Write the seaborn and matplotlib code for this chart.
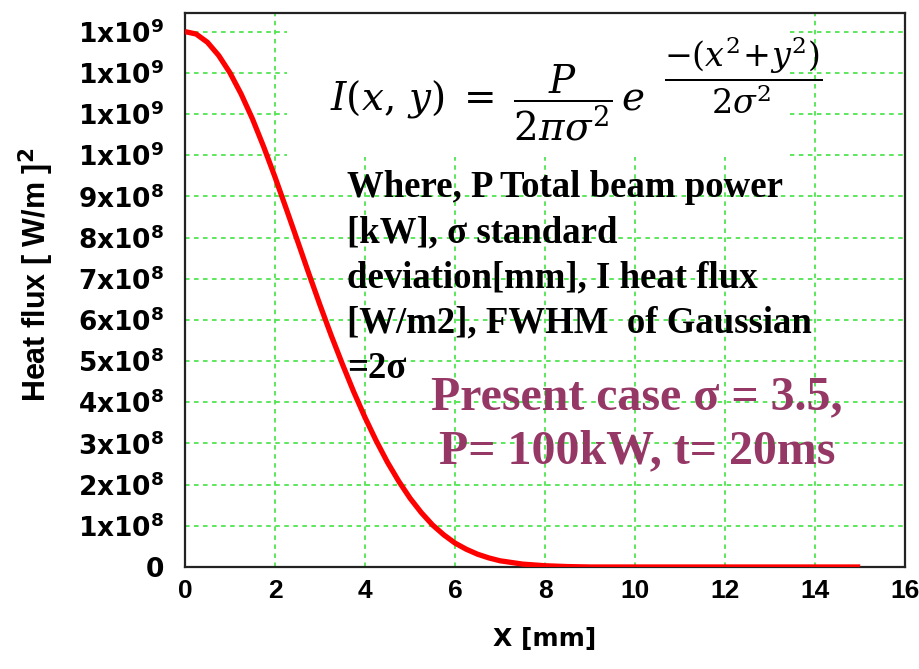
import numpy as np
import pandas as pd
import matplotlib
matplotlib.use('Agg')
import matplotlib.pyplot as plt
import seaborn as sns
from matplotlib.patches import Rectangle

# values (heat flux in units of 1e8 W/m2)
x_mm = [0.0, 0.25, 0.5, 0.75, 1.0, 1.25, 1.5, 1.75, 2.0, 2.25, 2.5, 2.75,
        3.0, 3.25, 3.5, 3.75, 4.0, 4.25, 4.5, 4.75, 5.0, 5.25, 5.5, 5.75,
        6.0, 6.25, 6.5, 6.75, 7.0, 7.5, 8.0, 8.5, 9.0, 15.0]
flux_1e8 = [13.0, 12.94, 12.74, 12.42, 12.0, 11.48, 10.88, 10.2, 9.47, 8.7, 7.92, 7.13,
            6.36, 5.62, 4.92, 4.25, 3.63, 3.06, 2.54, 2.08, 1.67, 1.32, 1.02, 0.78,
            0.58, 0.43, 0.31, 0.22, 0.15, 0.07, 0.03, 0.01, 0.0, 0.0]

x_ticks = [0, 2, 4, 6, 8, 10, 12, 14, 16]
y_ticks = [0, 1e8, 2e8, 3e8, 4e8, 5e8, 6e8, 7e8, 8e8, 9e8, 1.0e9, 1.1e9, 1.2e9, 1.3e9]
y_ticklabels = ['0'] + [f'{k}x10$^{{8}}$' for k in range(1, 10)] + ['1x10$^{9}$'] * 4

note_text = ('Where, P Total beam power\n[kW], \u03c3 standard\n'
             'deviation[mm], I heat flux\n[W/m2], FWHM  of Gaussian\n=2\u03c3')
case_text = 'Present case \u03c3 = 3.5,\nP= 100kW, t= 20ms'

df = pd.DataFrame({'x': x_mm, 'flux': np.array(flux_1e8) * 1e8})

sns.set_style('white')
plt.rcParams['font.family'] = ['DejaVu Sans']
plt.rcParams['text.color'] = 'black'
plt.rcParams['xtick.color'] = 'black'
plt.rcParams['ytick.color'] = 'black'
plt.rcParams['axes.labelcolor'] = 'black'
plt.rcParams['mathtext.fontset'] = 'custom'
plt.rcParams['mathtext.rm'] = 'DejaVu Sans:bold'
plt.rcParams['mathtext.it'] = 'DejaVu Sans:bold'
plt.rcParams['mathtext.bf'] = 'DejaVu Sans:bold'

fig = plt.figure(figsize=(9.2, 6.69), dpi=100)
ax = fig.add_axes([0.201, 0.1525, 0.783, 0.828])

ax.set_axisbelow(True)
ax.grid(True, color='#4ee64e', linestyle=(0, (2.5, 2.5)), linewidth=1.3)

# white panel behind the formula
ax.add_patch(Rectangle((0.142, 0.74), 0.698, 0.26, transform=ax.transAxes,
                       facecolor='white', edgecolor='none', zorder=1))

sns.lineplot(data=df, x='x', y='flux', color='#ff0000', linewidth=3.8, ax=ax,
             zorder=3, solid_joinstyle='round', solid_capstyle='butt')

ax.set_xlim(0, 16)
ax.set_ylim(0, 1.345e9)
ax.set_xticks(x_ticks)
ax.set_xticklabels([str(t) for t in x_ticks])
ax.set_yticks(y_ticks)
ax.set_yticklabels(y_ticklabels)
ax.tick_params(axis='both', length=0)
ax.tick_params(axis='y', pad=15, labelsize=19)
ax.tick_params(axis='x', pad=9, labelsize=19)
for lab in ax.get_yticklabels():
    lab.set_fontweight('bold')
for lab in ax.get_xticklabels():
    lab.set_fontweight('bold')
    lab.set_family('Liberation Sans')

for s in ax.spines.values():
    s.set_color('#222222')
    s.set_linewidth(1.6)

ax.set_xlabel('X [mm]', fontsize=18, fontweight='bold')
ax.set_ylabel('Heat flux [ W/m ]$^{\\mathbf{2}}$', fontsize=22, fontweight='bold',
              family='Liberation Sans')
ax.xaxis.set_label_coords(0.5, -0.108)
ax.yaxis.set_label_coords(-0.179, 0.527)

# formula, main part and exponent
ax.text(0.202, 0.837, r'$I(x,\,y)\;=\;\dfrac{P}{2\pi\sigma^2}\,e$',
        transform=ax.transAxes, fontsize=28, math_fontfamily='dejavuserif',
        ha='left', va='center', zorder=4)
ax.text(0.665, 0.888, r'$\dfrac{-(x^2\!+\!y^2)}{2\sigma^2}$',
        transform=ax.transAxes, fontsize=24, math_fontfamily='dejavuserif',
        ha='left', va='center', zorder=4)

ax.text(0.225, 0.717, note_text, transform=ax.transAxes,
        family='Liberation Serif', fontweight='bold', fontsize=26.5,
        ha='left', va='top', linespacing=1.38, zorder=4)

ax.text(0.628, 0.257, case_text, transform=ax.transAxes,
        family='Liberation Serif', fontweight='bold', fontsize=34.5,
        color='#953866', ha='center', va='center', linespacing=1.3, zorder=4)

plt.savefig('out.png', dpi=100)
